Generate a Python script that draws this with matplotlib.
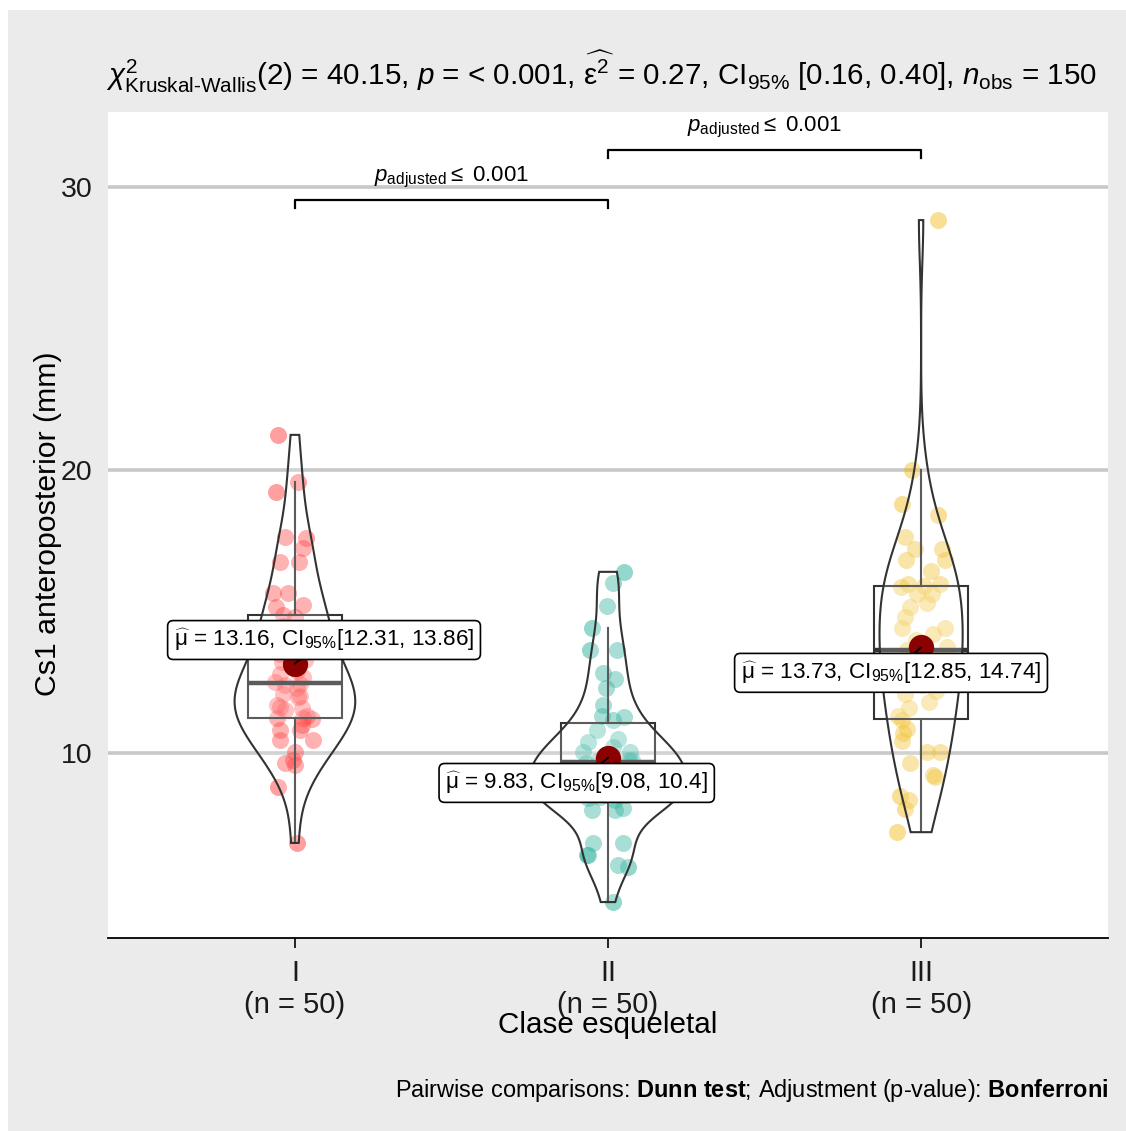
import numpy as np
import matplotlib
matplotlib.use("Agg")
import matplotlib.pyplot as plt
from matplotlib.patches import Rectangle

plt.rcParams["font.family"] = ["Liberation Sans", "DejaVu Sans"]
plt.rcParams["mathtext.fontset"] = "custom"
plt.rcParams["mathtext.rm"] = "Liberation Sans"
plt.rcParams["mathtext.it"] = "Liberation Sans:italic"
plt.rcParams["mathtext.bf"] = "Liberation Sans:bold"
plt.rcParams["mathtext.sf"] = "Liberation Sans"

# Cs1 anteroposterior (mm) per skeletal class
groups = ["I", "II", "III"]
colors = ["#FF1A1A", "#00A087", "#F0B400"]

cs1_I = [21.24, 19.58, 19.22, 17.63, 17.60, 17.24, 16.75, 16.75, 15.65, 15.65,
         15.23, 15.16, 14.88, 14.8, 14.5, 14.3, 14.1, 13.9, 13.5, 13.3,
         13.2, 12.9, 12.8, 12.7, 12.5, 12.45, 12.4, 12.3, 12.1, 12.0,
         11.98, 11.7, 11.63, 11.6, 11.5, 11.3, 11.24, 11.24, 11.2, 10.99,
         10.81, 10.81, 10.46, 10.46, 10.04, 9.75, 9.65, 9.58, 8.8, 6.82]
cs1_II = [16.4, 16.0, 15.19, 14.42, 13.64, 13.64, 12.83, 12.6, 12.3, 11.7,
          11.3, 11.27, 11.15, 10.81, 10.5, 10.39, 10.2, 10.04, 10.04, 9.9,
          9.8, 9.75, 9.75, 9.72, 9.72, 9.65, 9.4, 9.2, 9.0, 8.9,
          8.8, 8.7, 8.6, 8.55, 8.5, 8.5, 8.5, 8.45, 8.41, 8.34,
          8.06, 7.99, 7.99, 6.82, 6.82, 6.4, 6.4, 6.04, 5.97, 4.73]
cs1_III = [28.83, 20.0, 18.8, 18.41, 17.63, 17.2, 17.2, 16.82, 16.82, 16.43,
           15.97, 15.97, 15.9, 15.85, 15.62, 15.62, 15.3, 15.16, 14.8, 14.42,
           14.42, 14.2, 14.0, 13.75, 13.65, 13.6, 13.55, 13.4, 13.13, 12.6,
           12.6, 12.4, 12.2, 12.07, 11.8, 11.6, 11.31, 11.15, 10.85, 10.7,
           10.42, 10.04, 10.04, 9.65, 9.22, 9.15, 8.48, 8.34, 8.02, 7.2]

# horizontal jitter of each point
jit_I = [-17, 3, -19, -10, 11, 8, -15, 4, -22, -7,
         8, -19, -12, 0, -12, 10, -8, 5, -15, 10,
         -13, 2, -15, 8, -20, 5, -10, 2, -12, 5,
         3, -18, -15, 7, -10, 12, -18, 8, 17, 7,
         -15, 5, -15, 18, 0, -2, -10, 0, -17, 2]
jit_II = [16, 5, -1, -16, -18, 9, -5, 7, -2, -5,
          -6, 16, 5, -11, 10, -20, 5, 22, -25, 2,
          -5, 20, 24, -10, 22, -22, 6, -12, 14, -6,
          10, -20, 3, -14, 18, -3, 12, -8, -20, 7,
          15, 7, -16, 15, -15, -20, -21, 10, 20, 5]
jit_III = [17, -9, -19, 17, -16, -6, 21, -15, 24, 10,
           19, -13, 3, -20, 11, -4, 6, -11, -16, -19,
           24, 12, -5, 26, -14, 3, -8, 18, -11, -20,
           6, 1, 15, -16, 8, -12, -23, -19, -14, -18,
           -19, 19, 6, -11, 12, 14, -21, -12, -16, -24]

means = [13.16, 9.83, 13.73]
ci_lo = [12.31, 9.08, 12.85]
ci_hi = [13.86, 10.40, 14.74]

kw_stat, kw_df, kw_p = 40.15, 2, "< 0.001"
eps2, eps2_lo, eps2_hi = 0.27, 0.16, 0.40
pairs = [(1, 2), (2, 3)]
pair_p = ["0.001", "0.001"]

data = [np.array(cs1_I), np.array(cs1_II), np.array(cs1_III)]
jitter = [np.array(j) * 0.0032 for j in (jit_I, jit_II, jit_III)]
pos = np.arange(1, len(groups) + 1)
n_obs = sum(len(d) for d in data)

W, H = 1126, 1131
fig = plt.figure(figsize=(W / 100, H / 100), dpi=100, facecolor="white")
fig.patches.append(Rectangle((8 / W, 0), 1 - 8 / W, 1 - 10 / H,
                             transform=fig.transFigure, facecolor="#EBEBEB",
                             edgecolor="none", zorder=-10))

ax = fig.add_axes([108 / W, 1 - 938 / H, 1000 / W, 826 / H])
ax.set_facecolor("white")


def fx(x):
    return x / W


def fy(y):
    return 1 - y / H


# jittered points
for p, d, j, c in zip(pos, data, jitter, colors):
    ax.scatter(p + j, d, s=150, color=c, alpha=0.42, linewidths=0, zorder=2)

# boxplots
ax.boxplot(data, positions=pos, widths=0.3, patch_artist=True,
           showfliers=False, showcaps=False,
           boxprops=dict(facecolor=(1, 1, 1, 0.2), edgecolor="#333333", linewidth=1.5),
           medianprops=dict(color="#333333", linewidth=3.2),
           whiskerprops=dict(color="#333333", linewidth=1.5),
           zorder=3)


# violins (gaussian kde, nrd0 bandwidth, trimmed, area scaled)
def kde(y, n_grid=512):
    n = len(y)
    q75, q25 = np.percentile(y, [75, 25])
    bw = 0.9 * min(y.std(ddof=1), (q75 - q25) / 1.34) * n ** -0.2
    grid = np.linspace(y.min(), y.max(), n_grid)
    z = (grid[:, None] - y[None, :]) / bw
    dens = np.exp(-0.5 * z ** 2).sum(axis=1) / (n * bw * np.sqrt(2 * np.pi))
    return grid, dens


dens_all = [kde(d) for d in data]
dmax = max(dn.max() for _, dn in dens_all)
for p, (g, dn) in zip(pos, dens_all):
    half = 0.25 * dn / dmax
    xs = np.concatenate([p - half, (p + half)[::-1]])
    ys = np.concatenate([g, g[::-1]])
    ax.fill(xs, ys, facecolor=(1, 1, 1, 0.2), edgecolor="#333333",
            linewidth=1.5, zorder=4)

# means with labels
label_off = [(0.093, 0.83), (-0.10, -0.89), (-0.096, -0.90)]


def fmt(v):
    s = f"{v:.2f}"
    return s.rstrip("0").rstrip(".") if "." in s else s


ax.scatter(pos, means, s=330, color="#8B0000", linewidths=0, zorder=6)
for p, m, lo, hi, (dx, dy) in zip(pos, means, ci_lo, ci_hi, label_off):
    ax.plot([p, p + dx], [m, m + dy], color="black", linewidth=1.3, zorder=6.5)
    txt = (r"$\widehat{\mathrm{\mu}}$ = " + fmt(m) + r", CI$_{95\%}$[" + fmt(lo) + ", "
           + fmt(hi) + "]")
    ax.text(p + dx, m + dy, txt, fontsize=16.2, ha="center", va="center", zorder=7,
            bbox=dict(boxstyle="round,pad=0.28,rounding_size=0.25", facecolor="white",
                      edgecolor="black", linewidth=1.2))

# pairwise brackets
top = max(d.max() for d in data)
step = 1.77
for k, ((a, b), pv) in enumerate(zip(pairs, pair_p)):
    yb = top + 0.71 + k * step
    ax.plot([a, a, b, b], [yb - 0.28, yb, yb, yb - 0.28], color="black",
            linewidth=1.6, zorder=5, clip_on=False)
    ax.text((a + b) / 2, yb + 0.78, r"$p_{\mathrm{adjusted}}\leq$ " + pv,
            fontsize=16, ha="center", va="center", clip_on=False)

ax.set_xlim(0.403, 3.597)
ax.set_ylim(3.46, 32.65)
ax.set_yticks([10, 20, 30])
ax.set_xticks(pos)
ax.set_xticklabels([f"{g}\n(n = {len(d)})" for g, d in zip(groups, data)],
                   linespacing=1.2)
ax.yaxis.grid(True, color="#C8C8C8", linewidth=2.6)
ax.set_axisbelow(True)
for s in ("top", "right", "left"):
    ax.spines[s].set_visible(False)
ax.spines["bottom"].set_linewidth(1.3)
ax.tick_params(axis="y", length=0, labelsize=20.5, pad=11, labelcolor="#1A1A1A")
ax.tick_params(axis="x", length=7, width=1.2, labelsize=21, pad=8, labelcolor="#1A1A1A")

title = (r"$\chi^{2}_{\mathrm{Kruskal\text{-}Wallis}}$(" + str(kw_df) + ") = " + f"{kw_stat:.2f}"
         + r", $p$ = " + kw_p + r", $\widehat{\mathrm{\epsilon}^{2}}$ = " + f"{eps2:.2f}"
         + r", CI$_{95\%}$ [" + f"{eps2_lo:.2f}, {eps2_hi:.2f}" + r"], $n_{\mathrm{obs}}$ = "
         + str(n_obs))
fig.text(fx(106), fy(72), title, fontsize=21.3, ha="left", va="center")
fig.text(fx(48), fy(524), "Cs1 anteroposterior (mm)", rotation=90, fontsize=21.8,
         ha="center", va="center")
fig.text(fx(608), fy(1025), "Clase esqueletal", fontsize=21.3, ha="center", va="center")
fig.text(fx(1108), fy(1090),
         r"Pairwise comparisons: $\mathbf{Dunn\ test}$; Adjustment (p-value): $\mathbf{Bonferroni}$",
         fontsize=16.9, ha="right", va="center")

fig.savefig("out.png", dpi=100)
